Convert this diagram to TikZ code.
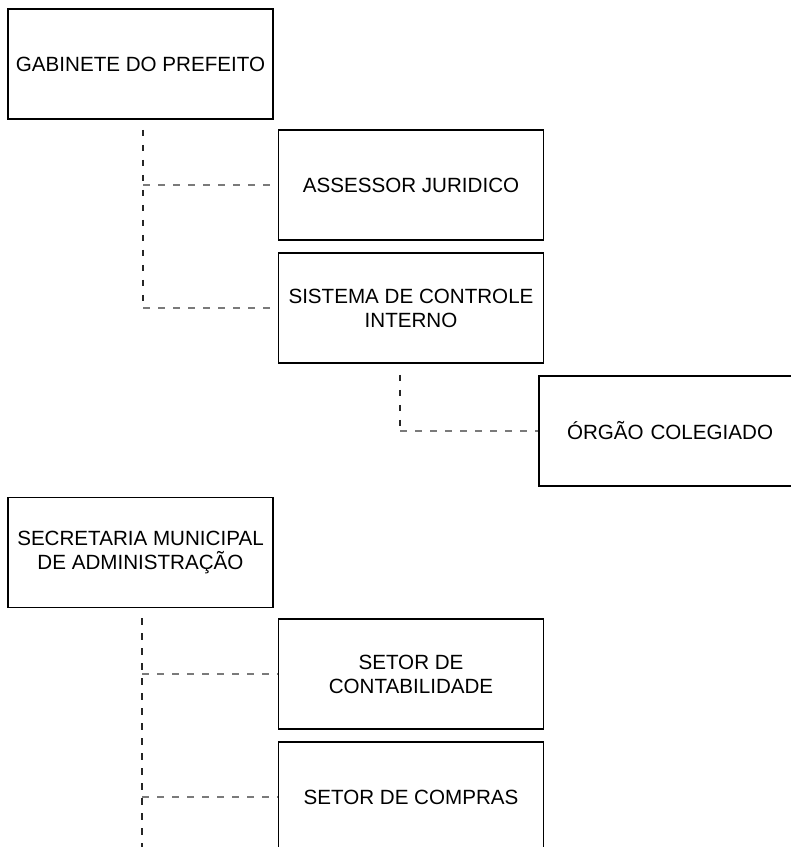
\documentclass[tikz,border=0pt]{standalone}
\usepackage{fontspec}
\setmainfont{Liberation Sans}
\usetikzlibrary{calc}
\definecolor{hgray}{HTML}{7A7A7A}
\begin{document}
\begin{tikzpicture}[x=1pt,y=-1pt,
  box/.style={draw=black, line width=1.7pt, fill=white, minimum width=265pt, minimum height=110pt,
    align=center, inner sep=2pt, font=\fontsize{20.6}{24}\selectfont},
  vdash/.style={draw=black!85, line width=1.1pt, dash pattern=on 6.5pt off 8.5pt},
  hdash/.style={draw=hgray, line width=1.6pt, dash pattern=on 6.5pt off 8.5pt}]
\useasboundingbox (0,0) rectangle (791,847);
\fill[white] (0,0) rectangle (791,847);
\begin{scope}
\clip (0,0) rectangle (791,847);
\node[box] (gab) at (140.5,64) {GABINETE DO PREFEITO};
\node[box] (asse) at (411,185) {ASSESSOR JURIDICO};
\node[box] (sist) at (411,308) {SISTEMA DE CONTROLE\\INTERNO};
\node[box, minimum width=300pt, text width=250pt, align=left] (orgao) at (689,431) {\hspace*{3pt}ÓRGÃO COLEGIADO};
\node[box] (secr) at (140.5,552.5) {SECRETARIA MUNICIPAL\\DE ADMINISTRAÇÃO};
\node[box] (cont) at (411,674) {SETOR DE\\CONTABILIDADE};
\node[box] (comp) at (411,797) {SETOR DE COMPRAS};

\coordinate (g0) at ($(gab.south)+(2.5,10)$);
\coordinate (s0) at ($(sist.south)+(-11,11)$);
\coordinate (m0) at ($(secr.south)+(1.5,10)$);
\coordinate (mEnd) at ($(m0)+(0,250)$);

\draw[vdash] (g0) -- (g0 |- sist.west);
\draw[hdash] (g0 |- asse.west) -- (asse.west);
\draw[hdash] (g0 |- sist.west) -- (sist.west);

\draw[vdash] (s0) -- (s0 |- orgao.west);
\draw[hdash] (s0 |- orgao.west) -- (orgao.west);

\draw[vdash] (m0) -- (mEnd);
\draw[hdash] (m0 |- cont.west) -- (cont.west);
\draw[hdash] (m0 |- comp.west) -- (comp.west);
\end{scope}
\end{tikzpicture}
\end{document}
